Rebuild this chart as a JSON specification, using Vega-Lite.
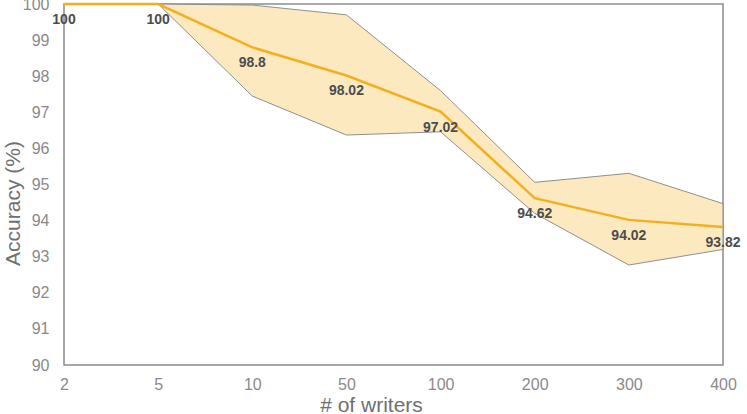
{
  "$schema": "https://vega.github.io/schema/vega-lite/v6.json",
  "width": 659,
  "height": 361,
  "autosize": {"type": "none"},
  "padding": {"left": 64, "top": 4, "right": 24, "bottom": 49},
  "background": "white",
  "config": {
    "view": {"stroke": "#8c8c8c", "strokeWidth": 1.5},
    "font": "Liberation Sans"
  },
  "data": {
    "values": [
      {"writers": "2", "acc": 100, "lo": 100, "hi": 100},
      {"writers": "5", "acc": 100, "lo": 100, "hi": 100},
      {"writers": "10", "acc": 98.8, "lo": 97.45, "hi": 99.97},
      {"writers": "50", "acc": 98.02, "lo": 96.37, "hi": 99.7},
      {"writers": "100", "acc": 97.02, "lo": 96.46, "hi": 97.6},
      {"writers": "200", "acc": 94.62, "lo": 94.2, "hi": 95.06},
      {"writers": "300", "acc": 94.02, "lo": 92.77, "hi": 95.31},
      {"writers": "400", "acc": 93.82, "lo": 93.2, "hi": 94.47}
    ]
  },
  "encoding": {
    "x": {
      "field": "writers",
      "type": "ordinal",
      "sort": null,
      "scale": {"type": "point", "padding": 0},
      "axis": {
        "title": "# of writers",
        "titleFont": "Liberation Sans",
        "titleFontSize": 21,
        "titleFontWeight": "normal",
        "titleColor": "#707070",
        "titleX": 307,
        "titleY": 46,
        "titleBaseline": "alphabetic",
        "labelAngle": 0,
        "labelFontSize": 16,
        "labelColor": "#8a8a8a",
        "labelPadding": 11,
        "ticks": false,
        "domain": false,
        "grid": false
      }
    },
    "y": {
      "field": "acc",
      "type": "quantitative",
      "scale": {"domain": [90, 100], "nice": false, "zero": false},
      "axis": {
        "title": "Accuracy (%)",
        "titleFont": "Liberation Sans",
        "titleFontSize": 21,
        "titleFontWeight": "normal",
        "titleColor": "#707070",
        "titleX": -45,
        "titleY": 199,
        "titleBaseline": "alphabetic",
        "values": [90, 91, 92, 93, 94, 95, 96, 97, 98, 99, 100],
        "tickCount": 11,
        "labelOverlap": false,
        "labelFontSize": 16,
        "labelColor": "#8a8a8a",
        "labelPadding": 15,
        "ticks": false,
        "domain": false,
        "grid": false
      }
    }
  },
  "layer": [
    {
      "mark": {"type": "area", "color": "#fde8bd", "opacity": 0.95, "stroke": "#8a8a8a", "strokeWidth": 1},
      "encoding": {
        "y": {
          "field": "lo",
          "type": "quantitative",
          "scale": {"domain": [90, 100], "nice": false, "zero": false},
          "axis": {
            "title": "Accuracy (%)",
            "titleFont": "Liberation Sans",
            "titleFontSize": 21,
            "titleFontWeight": "normal",
            "titleColor": "#707070",
            "titleX": -45,
            "titleY": 199,
            "titleBaseline": "alphabetic",
            "values": [90, 91, 92, 93, 94, 95, 96, 97, 98, 99, 100],
            "tickCount": 11,
            "labelOverlap": false,
            "labelFontSize": 16,
            "labelColor": "#8a8a8a",
            "labelPadding": 15,
            "ticks": false,
            "domain": false,
            "grid": false
          }
        },
        "y2": {"field": "hi"}
      }
    },
    {
      "mark": {"type": "line", "color": "#f2b01e", "strokeWidth": 2.5},
      "encoding": {}
    },
    {
      "mark": {"type": "text", "dy": 16, "fontSize": 14, "fontWeight": "bold", "color": "#4d4d4d", "font": "Liberation Sans"},
      "encoding": {
        "text": {"field": "acc", "type": "nominal"}
      }
    }
  ]
}
